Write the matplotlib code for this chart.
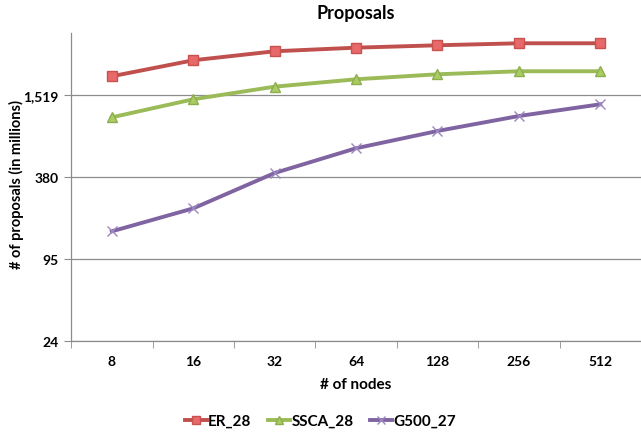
import matplotlib
matplotlib.use("Agg")
import matplotlib.pyplot as plt
from matplotlib.ticker import FixedLocator, NullLocator

plt.rcParams['font.family'] = ['Lato', 'DejaVu Sans']

nodes = ["8", "16", "32", "64", "128", "256", "512"]
er_28 = [2083, 2729, 3177, 3376, 3515, 3636, 3636]
ssca_28 = [1042, 1413, 1748, 1980, 2154, 2267, 2267]
g500_27 = [152, 224, 407, 618, 827, 1065, 1298]
y_ticks = [23.73, 94.92, 379.7, 1519]
y_tick_labels = ["24", "95", "380", "1,519"]

fig = plt.figure(figsize=(6.41, 4.35), dpi=100)
ax = fig.add_axes([0.111, 0.213, 0.889, 0.709])

x = list(range(len(nodes)))
ax.plot(x, er_28, color="#C0504D", lw=2.8, marker="s", ms=7.5,
        mfc="#E8696A", mec="#C9514E", mew=1.0, label="ER_28", zorder=4)
ax.plot(x, ssca_28, color="#9BBB59", lw=2.8, marker="^", ms=7.5,
        mfc="#A9CC63", mec="#8EAE4E", mew=1.0, label="SSCA_28", zorder=4)
ax.plot(x, g500_27, color="#8064A2", lw=2.8, marker="x", ms=7,
        mec="#9D87C0", mew=1.0, label="G500_27", zorder=4)

ax.set_yscale("log")
ax.set_ylim(23.73, 4330)
ax.set_xlim(-0.5, len(nodes) - 0.5)
ax.yaxis.set_major_locator(FixedLocator(y_ticks))
ax.yaxis.set_minor_locator(NullLocator())
ax.set_yticks(y_ticks)
ax.set_yticklabels(y_tick_labels)
ax.set_xticks(x)
ax.set_xticklabels(nodes)
ax.set_xticks([i + 0.5 for i in range(-1, len(nodes))], minor=True)

ax.grid(axis="y", color="#8C8C8C", lw=0.9)
ax.set_axisbelow(True)
for side in ("top", "right"):
    ax.spines[side].set_visible(False)
for side in ("left", "bottom"):
    ax.spines[side].set_color("#8C8C8C")
    ax.spines[side].set_linewidth(0.9)

ax.tick_params(axis="x", which="major", length=0, pad=10)
ax.tick_params(axis="x", which="minor", length=5, color="#8C8C8C", direction="out")
ax.tick_params(axis="y", length=5, color="#8C8C8C", pad=4)
for lab in ax.get_xticklabels() + ax.get_yticklabels():
    lab.set_fontsize(10)
    lab.set_fontweight("bold")

ax.set_title("Proposals", fontsize=13, fontweight="bold", pad=11)
ax.set_xlabel("# of nodes", fontsize=11, fontweight="bold", labelpad=7)
fig.text(0.025, 0.575, "# of proposals (in millions)", rotation=90,
         ha="center", va="center", fontsize=10.5, fontweight="bold")

fig.legend(loc="center", bbox_to_anchor=(0.5, 0.03), ncol=3, frameon=False,
           handlelength=1.4, handletextpad=0.1, columnspacing=1.1,
           markerscale=0.75, prop={"size": 11, "weight": "bold"})

fig.savefig("out.png", dpi=100)
